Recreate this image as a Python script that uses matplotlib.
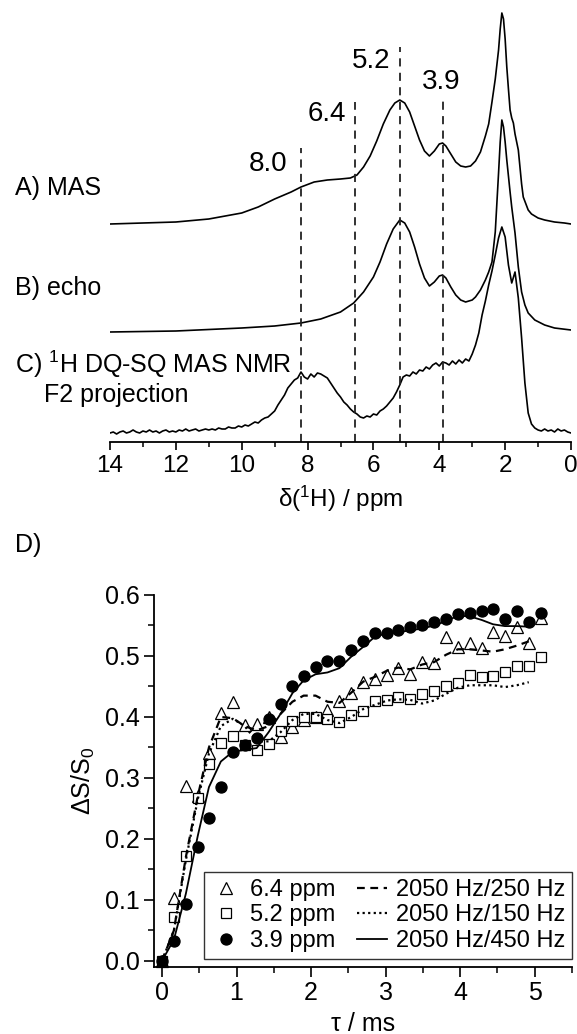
import numpy as np
import matplotlib
matplotlib.use("Agg")
import matplotlib.pyplot as plt
from matplotlib.lines import Line2D
from matplotlib.ticker import MultipleLocator, FormatStrFormatter

plt.rcParams['font.family'] = ['Liberation Sans', 'DejaVu Sans']
plt.rcParams['mathtext.fontset'] = 'custom'
plt.rcParams['mathtext.rm'] = 'Liberation Sans'
plt.rcParams['mathtext.it'] = 'Liberation Sans:italic'
plt.rcParams['mathtext.bf'] = 'Liberation Sans:bold'

# ---------------- data: 1H spectra (intensity in a.u.) ----------------
ppm_A = [14, 13, 12, 11, 10.5, 10, 9.5, 9, 8.5, 8.2, 7.8, 7.4, 7.0, 6.7, 6.5, 6.3, 6.1,
         5.9, 5.7, 5.5, 5.35, 5.2, 5.05, 4.9, 4.75, 4.6, 4.45, 4.3, 4.15, 4.0, 3.9, 3.8,
         3.65, 3.5, 3.35, 3.2, 3.05, 2.9, 2.75, 2.6, 2.5, 2.4, 2.3, 2.2, 2.15, 2.1, 2.05,
         2.0, 1.95, 1.9, 1.85, 1.8, 1.75, 1.7, 1.6, 1.5, 1.45, 1.3, 1.2, 1.0, 0.8, 0.5, 0.2, 0]
int_A = [0, 1, 2, 5, 8, 11, 17, 25, 32, 37, 42, 44, 45, 46, 49, 57, 68,
         83, 100, 114, 121, 124, 121, 112, 98, 84, 73, 68, 73, 80, 81, 78,
         70, 62, 58, 57, 58, 63, 72, 88, 100, 122, 145, 174, 195, 211, 205,
         185, 157, 135, 114, 106, 101, 90, 74, 40, 27, 14, 10, 6, 4, 2, 1, 0]

ppm_B = [14, 12, 10, 9, 8.2, 7.6, 7.0, 6.6, 6.3, 6.0, 5.8, 5.6, 5.4, 5.2, 5.05, 4.9,
         4.75, 4.6, 4.45, 4.3, 4.15, 4.0, 3.9, 3.8, 3.65, 3.5, 3.35, 3.2, 3.0, 2.9, 2.75,
         2.6, 2.5, 2.4, 2.3, 2.2, 2.15, 2.1, 2.05, 2.0, 1.95, 1.85, 1.8, 1.7, 1.6, 1.5,
         1.4, 1.3, 1.1, 0.8, 0.5, 0]
int_B = [0, 1, 4, 6, 9, 13, 20, 29, 40, 55, 70, 88, 103, 112, 109, 100,
         85, 68, 54, 46, 50, 56, 57, 54, 45, 37, 32, 30, 32, 35, 42,
         52, 60, 70, 100, 159, 190, 212, 205, 190, 172, 140, 125, 99, 65, 40,
         27, 19, 12, 7, 4, 2]

ppm_C = np.linspace(14, 0, 141)
int_C = [0, 1, -1, 1, 2, 0, 1, 3, 1, 0, 2,
         1, 3, 1, 2, 0, 2, 3, 1, 2, 1,
         3, 2, 4, 2, 3, 4, 2, 3, 4, 3,
         4, 3, 5, 4, 4, 6, 5, 5, 7, 6,
         8, 7, 9, 11, 10, 13, 15, 16, 19, 22,
         28, 33, 38, 45, 49, 53, 55, 61, 56, 54,
         59, 56, 60, 59, 57, 55, 50, 45, 40, 36,
         31, 28, 24, 21, 19, 16, 15, 17, 16, 19,
         18, 22, 24, 27, 31, 35, 41, 48, 56, 58,
         57, 61, 59, 63, 62, 66, 64, 68, 70, 67,
         71, 70, 68, 72, 69, 73, 70, 74, 72, 79,
         88, 100, 118, 132, 148, 162, 178, 195, 206, 196,
         168, 150, 161, 135, 95, 50, 20, 9, 5, 3,
         2, 4, 2, 3, 1, 4, 2, 3, 1, 0]

offsets = [218, 110, 9]
peak_pos = [8.2, 6.55, 5.2, 3.9]
peak_top = [294, 340, 395, 344]
peak_txt = ['8.0', '6.4', '5.2', '3.9']
peak_txt_x = [9.2, 7.4, 6.06, 3.93]
peak_txt_y = [278, 328, 381, 360]

# ---------------- data: build-up curves ----------------
tau = [0, 0.16, 0.32, 0.48, 0.63, 0.79, 0.95, 1.11, 1.27, 1.43, 1.59, 1.75, 1.90,
       2.06, 2.22, 2.38, 2.54, 2.70, 2.86, 3.02, 3.17, 3.33, 3.49, 3.65, 3.81, 3.97,
       4.13, 4.29, 4.44, 4.60, 4.76, 4.92, 5.08]
tri_64 = [0.0, 0.103, 0.287, 0.27, 0.341, 0.407, 0.425, 0.387, 0.388, 0.400, 0.367,
          0.384, 0.395, 0.400, 0.411, 0.426, 0.440, 0.458, 0.462, 0.469, 0.480, 0.470,
          0.490, 0.488, 0.531, 0.514, 0.521, 0.513, 0.540, 0.533, 0.548, 0.522, 0.562]
sq_52 = [0.0, 0.072, 0.172, 0.267, 0.323, 0.358, 0.369, 0.354, 0.346, 0.355, 0.377,
         0.394, 0.400, 0.400, 0.396, 0.392, 0.403, 0.410, 0.427, 0.428, 0.433, 0.430,
         0.437, 0.443, 0.450, 0.455, 0.469, 0.466, 0.467, 0.473, 0.484, 0.484, 0.498]
circ_39 = [0.0, 0.032, 0.093, 0.186, 0.235, 0.285, 0.343, 0.354, 0.366, 0.397, 0.421,
           0.450, 0.467, 0.482, 0.492, 0.491, 0.510, 0.525, 0.537, 0.538, 0.543, 0.547,
           0.551, 0.555, 0.560, 0.569, 0.570, 0.574, 0.577, 0.560, 0.574, 0.555, 0.570]

tau_sim = tau[:32]
sim_250 = [0.0, 0.05, 0.17, 0.27, 0.35, 0.40, 0.398, 0.385, 0.378, 0.385, 0.405, 0.425,
           0.435, 0.435, 0.425, 0.423, 0.440, 0.458, 0.466, 0.476, 0.481, 0.478, 0.486,
           0.490, 0.502, 0.511, 0.511, 0.509, 0.507, 0.511, 0.517, 0.524]
sim_150 = [0.0, 0.05, 0.165, 0.265, 0.34, 0.385, 0.397, 0.385, 0.36, 0.36, 0.375, 0.395,
           0.405, 0.405, 0.395, 0.39, 0.40, 0.413, 0.42, 0.427, 0.429, 0.428, 0.422,
           0.427, 0.438, 0.448, 0.452, 0.452, 0.452, 0.449, 0.452, 0.457]
sim_450 = [0.0, 0.035, 0.11, 0.205, 0.285, 0.327, 0.343, 0.346, 0.349, 0.375, 0.405,
           0.439, 0.46, 0.47, 0.473, 0.48, 0.499, 0.515, 0.532, 0.537, 0.539, 0.542,
           0.545, 0.55, 0.557, 0.566, 0.565, 0.559, 0.552, 0.549, 0.549, 0.548]

# ---------------- figure ----------------
W, H = 577, 1034
fig = plt.figure(figsize=(W / 100, H / 100), dpi=100)


def px_axes(l, t, r, b):
    return fig.add_axes([l / W, 1 - b / H, (r - l) / W, (b - t) / H])


# top panel: spectra
ax1 = px_axes(110, 5, 571, 442)
ax1.set_xlim(14, 0)
ax1.set_ylim(0, 437)
for s in ['left', 'right', 'top']:
    ax1.spines[s].set_visible(False)
ax1.spines['bottom'].set_linewidth(1.3)
ax1.set_yticks([])
ax1.xaxis.set_major_locator(MultipleLocator(2))
ax1.xaxis.set_minor_locator(MultipleLocator(1))
ax1.tick_params(axis='x', which='major', direction='out', length=6, width=1.2,
                labelsize=17.5, pad=3)
ax1.tick_params(axis='x', which='minor', direction='out', length=3.5, width=1.1)

for p, i, off in zip([ppm_A, ppm_B, ppm_C], [int_A, int_B, int_C], offsets):
    ax1.plot(p, np.array(i) + off, color='black', lw=1.2)

for x, top in zip(peak_pos, peak_top):
    ax1.plot([x, x], [0, top], color='#222222', lw=1.3, ls=(0, (4.5, 3.5)))
for t, x, y in zip(peak_txt, peak_txt_x, peak_txt_y):
    ax1.text(x, y, t, fontsize=20, ha='center', va='center')

ax1.set_xlabel('δ($^{1}$H) / ppm', fontsize=17.5, labelpad=5)

fig.text(15 / W, 1 - 188 / H, 'A) MAS', fontsize=18, va='center', ha='left')
fig.text(15 / W, 1 - 288 / H, 'B) echo', fontsize=18, va='center', ha='left')
fig.text(15 / W, 1 - 364 / H, 'C) $^{1}$H DQ-SQ MAS NMR', fontsize=18, va='center', ha='left')
fig.text(44 / W, 1 - 395 / H, 'F2 projection', fontsize=18, va='center', ha='left')
fig.text(15 / W, 1 - 545 / H, 'D)', fontsize=18, va='center', ha='left')

# bottom panel: build-up
ax2 = px_axes(154, 595, 572, 967)
ax2.set_xlim(-0.107, 5.5)
ax2.set_ylim(-0.01, 0.6)
for s in ['right', 'top']:
    ax2.spines[s].set_visible(False)
for s in ['left', 'bottom']:
    ax2.spines[s].set_linewidth(1.3)
ax2.xaxis.set_major_locator(MultipleLocator(1))
ax2.xaxis.set_minor_locator(MultipleLocator(0.5))
ax2.yaxis.set_major_locator(MultipleLocator(0.1))
ax2.yaxis.set_minor_locator(MultipleLocator(0.05))
ax2.yaxis.set_major_formatter(FormatStrFormatter('%.1f'))
ax2.tick_params(which='major', direction='out', length=7, width=1.2, labelsize=18, pad=3)
ax2.tick_params(which='minor', direction='out', length=4, width=1.1)

mk = dict(ls='none', mec='black', mew=0.9, zorder=2, clip_on=False)
ax2.plot(tau, tri_64, marker='^', ms=8, mfc='white', **mk)
ax2.plot(tau, sq_52, marker='s', ms=7, mfc='white', **mk)
ax2.plot(tau, circ_39, marker='o', ms=8, mfc='black', **mk)

ax2.plot(tau_sim, sim_250, color='black', lw=1.6, ls=(0, (3.5, 2.5)), zorder=3)
ax2.plot(tau_sim, sim_150, color='black', lw=1.6, ls=(0, (1, 1.5)), zorder=3)
ax2.plot(tau_sim, sim_450, color='black', lw=1.3, ls='-', zorder=3)

ax2.set_xlabel('τ / ms', fontsize=18, labelpad=5)
ax2.set_ylabel('ΔS/S$_0$', fontsize=18)
ax2.yaxis.set_label_coords((97 - 154) / 418, 0.5)

handles = [
    Line2D([], [], ls='none', marker='^', ms=8, mfc='white', mec='black', mew=0.9),
    Line2D([], [], ls='none', marker='s', ms=7, mfc='white', mec='black', mew=0.9),
    Line2D([], [], ls='none', marker='o', ms=8, mfc='black', mec='black', mew=0.9),
    Line2D([], [], color='black', lw=1.6, ls=(0, (3.5, 2.5))),
    Line2D([], [], color='black', lw=1.6, ls=(0, (1, 1.5))),
    Line2D([], [], color='black', lw=1.3, ls='-'),
]
labels = ['6.4 ppm', '5.2 ppm', '3.9 ppm',
          '2050 Hz/250 Hz', '2050 Hz/150 Hz', '2050 Hz/450 Hz']
leg = ax2.legend(handles, labels, ncol=2, loc='lower right',
                 bbox_to_anchor=(1.0, (967 - 959) / 372), borderaxespad=0,
                 fontsize=17, frameon=True, fancybox=False, framealpha=1,
                 edgecolor='#333333', handlelength=1.3, handletextpad=0.35,
                 columnspacing=0.9, labelspacing=0.15, borderpad=0.3)
leg.get_frame().set_linewidth(1.0)

fig.savefig('out.png', dpi=100)
